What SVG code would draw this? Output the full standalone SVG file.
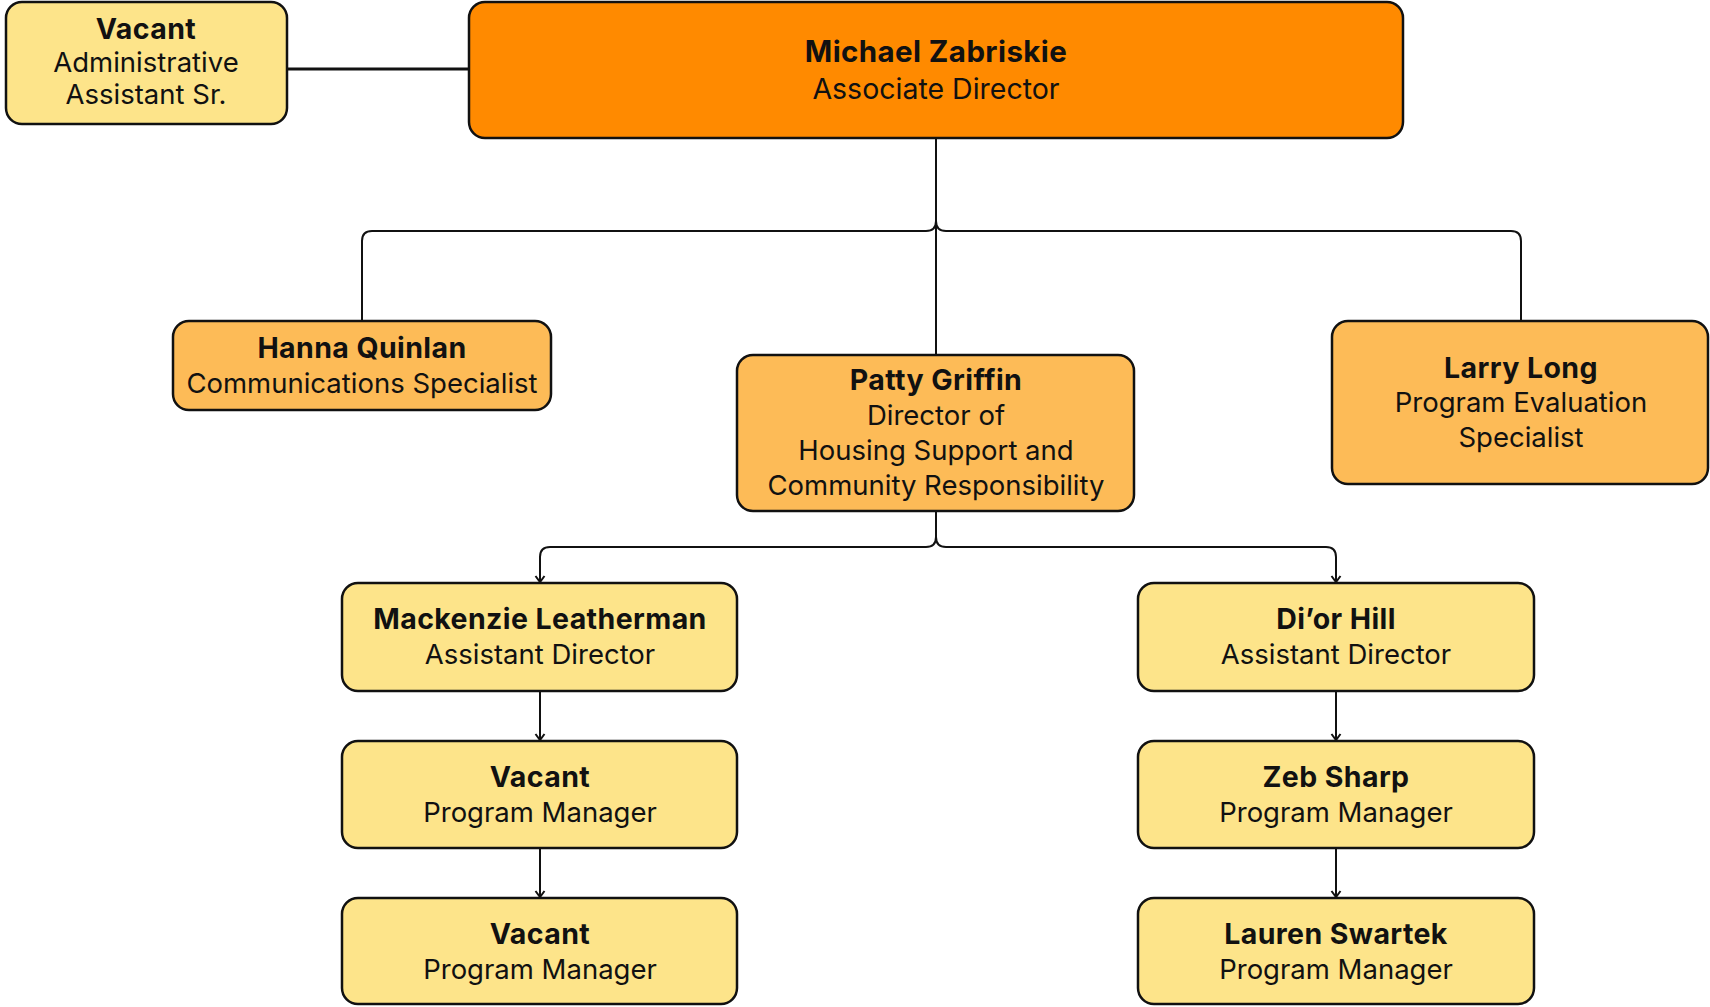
<svg xmlns="http://www.w3.org/2000/svg" width="1710" height="1007" viewBox="0 0 1710 1007">
<style>
.box{stroke:#111;stroke-width:2.5}
.o1{fill:#FF8A00}
.o2{fill:#FDBB57}
.y{fill:#FDE48A}
text{font-family:Inter,"Open Sans","Liberation Sans",sans-serif;font-size:27.5px;fill:#111;text-anchor:middle}
.b{font-weight:700;font-size:28.5px;letter-spacing:0.4px}
.c{fill:none;stroke:#111;stroke-width:2}
</style>
<defs>
<marker id="ar" markerWidth="12" markerHeight="12" refX="9" refY="6" orient="auto" markerUnits="userSpaceOnUse">
<path d="M3,1.5 L9,6 L3,10.5" fill="none" stroke="#111" stroke-width="2"/>
</marker>
</defs>
<rect width="1710" height="1007" fill="#fff"/>
<g id="connectors">
<path class="c" style="stroke-width:3" d="M287,69 H469"/>
<path class="c" d="M936,138 V355"/>
<path class="c" d="M362,321 V241 Q362,231 372,231 H926 Q936,231 936,221"/>
<path class="c" d="M1521,321 V241 Q1521,231 1511,231 H946 Q936,231 936,221"/>
<path class="c" d="M936,511 V537 Q936,547 926,547 H550 Q540,547 540,557 V582" marker-end="url(#ar)"/>
<path class="c" d="M936,537 Q936,547 946,547 H1326 Q1336,547 1336,557 V582" marker-end="url(#ar)"/>
<path class="c" d="M540,691 V740" marker-end="url(#ar)"/>
<path class="c" d="M540,848 V897" marker-end="url(#ar)"/>
<path class="c" d="M1336,691 V740" marker-end="url(#ar)"/>
<path class="c" d="M1336,848 V897" marker-end="url(#ar)"/>
</g>
<g id="n-admin">
<rect class="box y" x="6" y="2" width="281" height="122" rx="16"/>
<text x="146" y="39" class="b">Vacant</text>
<text x="146" y="72">Administrative</text>
<text x="146" y="104">Assistant Sr.</text>
</g>
<g id="n-michael">
<rect class="box o1" x="469" y="2" width="934" height="136" rx="16"/>
<text x="936" y="62" class="b" style="font-size:29.5px">Michael Zabriskie</text>
<text x="936" y="99" style="font-size:28.5px">Associate Director</text>
</g>
<g id="n-hanna">
<rect class="box o2" x="173" y="321" width="378" height="89" rx="16"/>
<text x="362" y="358" class="b">Hanna Quinlan</text>
<text x="362" y="393">Communications Specialist</text>
</g>
<g id="n-patty">
<rect class="box o2" x="737" y="355" width="397" height="156" rx="16"/>
<text x="936" y="390" class="b">Patty Griffin</text>
<text x="936" y="425">Director of</text>
<text x="936" y="460">Housing Support and</text>
<text x="936" y="495">Community Responsibility</text>
</g>
<g id="n-larry">
<rect class="box o2" x="1332" y="321" width="376" height="163" rx="16"/>
<text x="1521" y="378" class="b">Larry Long</text>
<text x="1521" y="412">Program Evaluation</text>
<text x="1521" y="447">Specialist</text>
</g>
<g id="n-mackenzie">
<rect class="box y" x="342" y="583" width="395" height="108" rx="16"/>
<text x="540" y="629" class="b">Mackenzie Leatherman</text>
<text x="540" y="664">Assistant Director</text>
</g>
<g id="n-vacant1">
<rect class="box y" x="342" y="741" width="395" height="107" rx="16"/>
<text x="540" y="787" class="b">Vacant</text>
<text x="540" y="822">Program Manager</text>
</g>
<g id="n-vacant2">
<rect class="box y" x="342" y="898" width="395" height="106" rx="16"/>
<text x="540" y="944" class="b">Vacant</text>
<text x="540" y="979">Program Manager</text>
</g>
<g id="n-dior">
<rect class="box y" x="1138" y="583" width="396" height="108" rx="16"/>
<text x="1336" y="629" class="b">Di’or Hill</text>
<text x="1336" y="664">Assistant Director</text>
</g>
<g id="n-zeb">
<rect class="box y" x="1138" y="741" width="396" height="107" rx="16"/>
<text x="1336" y="787" class="b">Zeb Sharp</text>
<text x="1336" y="822">Program Manager</text>
</g>
<g id="n-lauren">
<rect class="box y" x="1138" y="898" width="396" height="106" rx="16"/>
<text x="1336" y="944" class="b">Lauren Swartek</text>
<text x="1336" y="979">Program Manager</text>
</g>
</svg>
